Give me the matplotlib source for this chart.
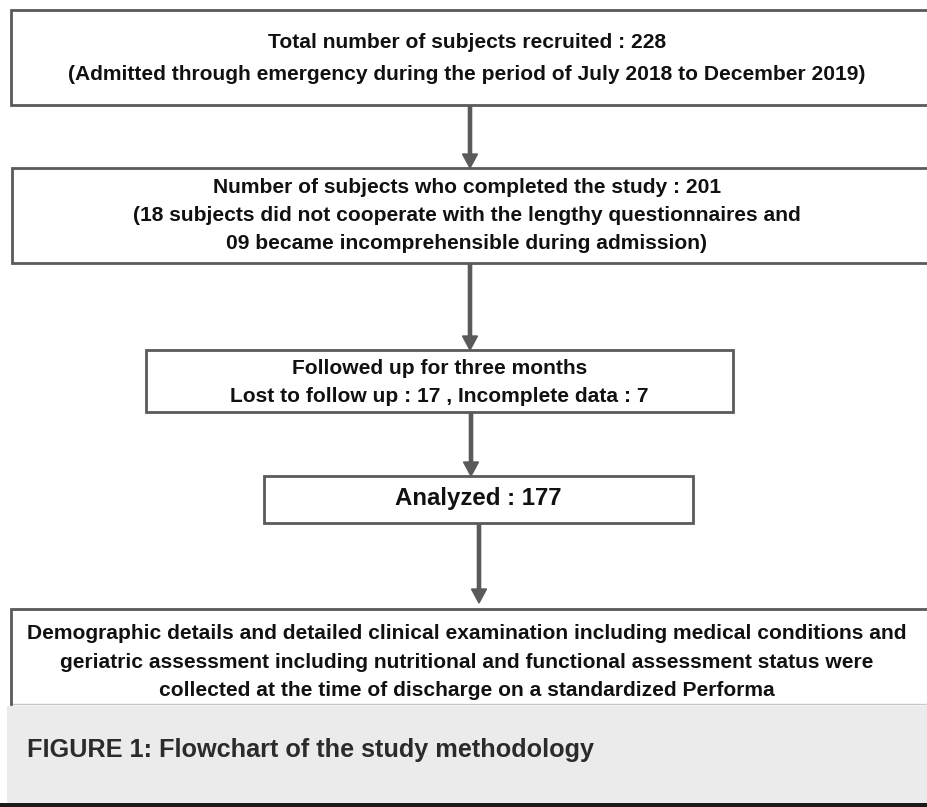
import matplotlib
matplotlib.use("Agg")
import matplotlib.pyplot as plt
from matplotlib.patches import Rectangle

# ---- data ----
recruited = 228
completed = 201
not_cooperate = 18
incomprehensible = "09"
lost_follow = 17
incomplete = 7
analyzed = 177

box_texts = [
    f"Total number of subjects recruited : {recruited}\n(Admitted through emergency during the period of July 2018 to December 2019)",
    f"Number of subjects who completed the study : {completed}\n({not_cooperate} subjects did not cooperate with the lengthy questionnaires and\n{incomprehensible} became incomprehensible during admission)",
    f"Followed up for three months\nLost to follow up : {lost_follow} , Incomplete data : {incomplete}",
    f"Analyzed : {analyzed}",
    "Demographic details and detailed clinical examination including medical conditions and\ngeriatric assessment including nutritional and functional assessment status were\ncollected at the time of discharge on a standardized Performa",
]
caption = "FIGURE 1: Flowchart of the study methodology"

# ---- layout (pixel coords) ----
W, H = 928, 807
boxes = [  # x0, y0, x1, y1
    (11, 10, 940, 105),
    (12, 168, 940, 263),
    (146, 350, 733, 412),
    (264, 476, 693, 523),
    (11, 609, 940, 704),
]
text_y = [58.5, 215.5, 382.5, 498.5, 662]
font_sizes = [15.1, 15.1, 15.1, 17.3, 15.1]
line_sp = [1.8, 1.6, 1.6, 1.2, 1.66]
arrows = [  # x, y_start, y_end
    (470, 105, 168),
    (470, 263, 350),
    (471, 412, 476),
    (479, 523, 603),
]

fig = plt.figure(figsize=(W / 100, H / 100), dpi=100)
ax = fig.add_axes([0, 0, 1, 1])
ax.set_xlim(0, W)
ax.set_ylim(H, 0)
ax.axis("off")

edge = "#5a5a5a"
for i, ((x0, y0, x1, y1), t, ty, fs, ls) in enumerate(zip(boxes, box_texts, text_y, font_sizes, line_sp)):
    if i == len(boxes) - 1:
        # last box is cut by the caption: no dark bottom edge
        ax.add_patch(Rectangle((x0, y0), x1 - x0, y1 - y0, facecolor="white",
                               edgecolor="#c8c8c8", linewidth=1.0, zorder=2))
        ax.plot([x0, x0, x1], [y1, y0, y0], color=edge, linewidth=2.0, zorder=2.5,
                solid_joinstyle="miter")
    else:
        ax.add_patch(Rectangle((x0, y0), x1 - x0, y1 - y0, facecolor="white",
                               edgecolor=edge, linewidth=2.0, zorder=2))
    cx = 467 if x1 > W else (x0 + x1) / 2
    ax.text(cx, ty, t, ha="center", va="center", fontsize=fs,
            fontweight="bold", family="Liberation Sans", color="#111111",
            linespacing=ls, zorder=3)

for x, ys, ye in arrows:
    ax.arrow(x, ys, 0, ye - ys, width=3.2, head_width=15, head_length=14,
             length_includes_head=True, color=edge, zorder=1)

# caption area
ax.add_patch(Rectangle((7, 706), W, 97, facecolor="#ebebeb", edgecolor="none", zorder=1))
ax.add_patch(Rectangle((0, 803), W, 4, facecolor="#1a1a1a", edgecolor="none", zorder=1))
ax.text(27, 749.5, caption, ha="left", va="center", fontsize=18.2,
        fontweight="bold", family="Liberation Sans", color="#2b2b2b")

fig.savefig("out.png", dpi=100)
